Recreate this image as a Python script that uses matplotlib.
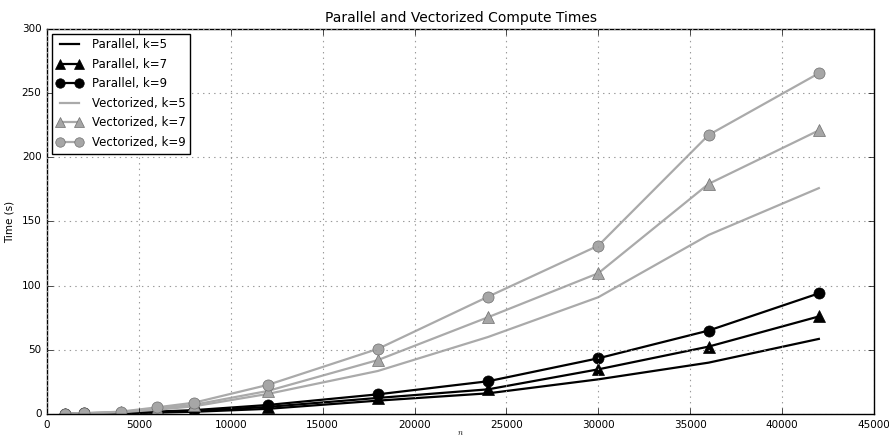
import matplotlib
matplotlib.use("Agg")
import matplotlib.pyplot as plt

n = [1000, 2000, 4000, 6000, 8000, 12000, 18000, 24000, 30000, 36000, 42000]

par_k5 = [0.1, 0.2, 0.6, 1.1, 1.7, 4.0, 10.4, 16.1, 27.0, 40.0, 58.5]
par_k7 = [0.1, 0.3, 0.8, 1.5, 2.3, 5.5, 12.5, 19.2, 34.8, 52.5, 76.0]
par_k9 = [0.2, 0.4, 1.0, 1.9, 3.0, 7.0, 15.3, 25.5, 43.4, 65.0, 94.0]
vec_k5 = [0.2, 0.5, 1.3, 3.3, 6.0, 15.6, 33.5, 60.0, 91.0, 139.5, 176.0]
vec_k7 = [0.3, 0.6, 1.6, 4.2, 7.2, 17.9, 42.0, 75.4, 109.7, 179.3, 221.0]
vec_k9 = [0.3, 0.6, 1.8, 5.2, 8.8, 22.6, 50.7, 91.4, 131.2, 217.4, 265.5]

labels = ["Parallel, k=5", "Parallel, k=7", "Parallel, k=9",
          "Vectorized, k=5", "Vectorized, k=7", "Vectorized, k=9"]

plt.style.use("classic")
plt.rcParams["font.family"] = ["DejaVu Sans"]

fig = plt.figure(figsize=(8.89, 4.36), dpi=100, facecolor="white")
ax = fig.add_axes([0.0529, 0.0505, 0.9302, 0.883])

gray_line = "#aaaaaa"
gray_face = "#a6a6a6"
gray_edge = "#6e6e6e"

ax.plot(n, par_k5, color="black", lw=1.6, label=labels[0])
ax.plot(n, par_k7, color="black", lw=1.6, marker="^", ms=8, mfc="black", mec="black", label=labels[1])
ax.plot(n, par_k9, color="black", lw=1.6, marker="o", ms=8, mfc="black", mec="black", label=labels[2])
ax.plot(n, vec_k5, color=gray_line, lw=1.6, label=labels[3])
ax.plot(n, vec_k7, color=gray_line, lw=1.6, marker="^", ms=8, mfc=gray_face, mec=gray_edge, label=labels[4])
ax.plot(n, vec_k9, color=gray_line, lw=1.6, marker="o", ms=8, mfc=gray_face, mec=gray_edge, label=labels[5])

ax.set_xlim(0, 45000)
ax.set_ylim(0, 300)
ax.set_xticks(range(0, 45001, 5000))
ax.set_yticks(range(0, 301, 50))
ax.tick_params(labelsize=7.5)
ax.grid(True, color="#999999", linestyle=":", linewidth=0.8)
ax.set_title("Parallel and Vectorized Compute Times", fontsize=10)
ax.set_ylabel("Time (s)", fontsize=7.5)
ax.set_xlabel("$n$", fontsize=6)
ax.xaxis.set_label_coords(0.5, -0.036)
ax.legend(loc="upper left", fontsize=8.5, numpoints=2, borderaxespad=0.4,
          handlelength=2.2, labelspacing=0.55, markerscale=0.85, fancybox=False)

fig.savefig("out.png", dpi=100, facecolor="white")
